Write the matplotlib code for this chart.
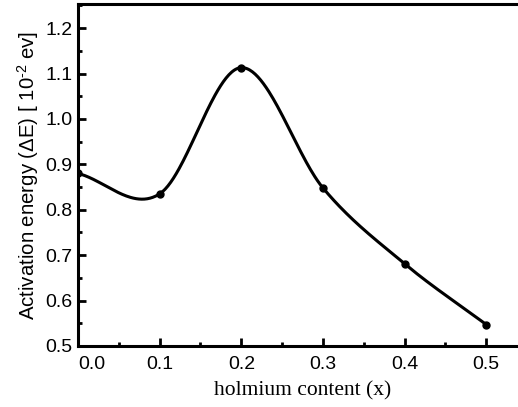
import numpy as np
import matplotlib
matplotlib.use("Agg")
from matplotlib import pyplot as plt
from matplotlib.ticker import MultipleLocator

# holmium content vs activation energy
holmium = [0.0, 0.1, 0.2, 0.3, 0.4, 0.5]
energy = [0.880, 0.835, 1.113, 0.848, 0.681, 0.547]


def smooth_line(x, y, n=60):
    # cubic Hermite (Catmull-Rom style) through the points, just for drawing
    x = np.asarray(x, float)
    y = np.asarray(y, float)
    m = np.gradient(y, x)
    m[0] = (y[1] - y[0]) / (x[1] - x[0])
    m[-1] = (y[-1] - y[-2]) / (x[-1] - x[-2])
    xs_all, ys_all = [], []
    for i in range(len(x) - 1):
        h = x[i + 1] - x[i]
        t = np.linspace(0, 1, n)
        h00 = 2 * t**3 - 3 * t**2 + 1
        h10 = t**3 - 2 * t**2 + t
        h01 = -2 * t**3 + 3 * t**2
        h11 = t**3 - t**2
        xs_all.append(x[i] + t * h)
        ys_all.append(h00 * y[i] + h10 * h * m[i] + h01 * y[i + 1] + h11 * h * m[i + 1])
    return np.concatenate(xs_all), np.concatenate(ys_all)


plt.rcParams['font.family'] = ['Liberation Sans', 'DejaVu Sans']
plt.rcParams['mathtext.fontset'] = 'custom'
plt.rcParams['mathtext.rm'] = 'Liberation Sans'

fig = plt.figure(figsize=(5.18, 4.07), dpi=100)
ax = fig.add_axes([0.1506, 0.150, 0.867, 0.840])

xs, ys = smooth_line(holmium, energy)
ax.plot(xs, ys, color='black', linewidth=2.2)
ax.plot(holmium, energy, 'o', color='black', markersize=5)

ax.set_xlim(0, 0.55)
ax.set_ylim(0.5, 1.253)
ax.xaxis.set_minor_locator(MultipleLocator(0.05))
ax.yaxis.set_major_locator(MultipleLocator(0.1))
ax.yaxis.set_minor_locator(MultipleLocator(0.05))
ax.set_xticks([0.0, 0.1, 0.2, 0.3, 0.4, 0.5])
ax.set_xticklabels(['0.0', '0.1', '0.2', '0.3', '0.4', '0.5'])
ax.get_xticklabels()[0].set_horizontalalignment('left')

ax.tick_params(which='both', direction='in', width=2, labelsize=14)
ax.tick_params(which='major', length=6)
ax.tick_params(which='minor', length=3)
ax.tick_params(axis='x', pad=7)
ax.tick_params(axis='y', pad=4)
for sp in ax.spines.values():
    sp.set_linewidth(2.2)

ax.set_xlabel('holmium content (x)', family=['Liberation Serif', 'DejaVu Serif'],
              fontsize=15.5, labelpad=6)
ax.set_ylabel(r'Activation energy ($\Delta$E) [ 10$^{\text{-}2}$ ev]', fontsize=14.7,
              labelpad=3)

fig.savefig('out.png', dpi=100)
